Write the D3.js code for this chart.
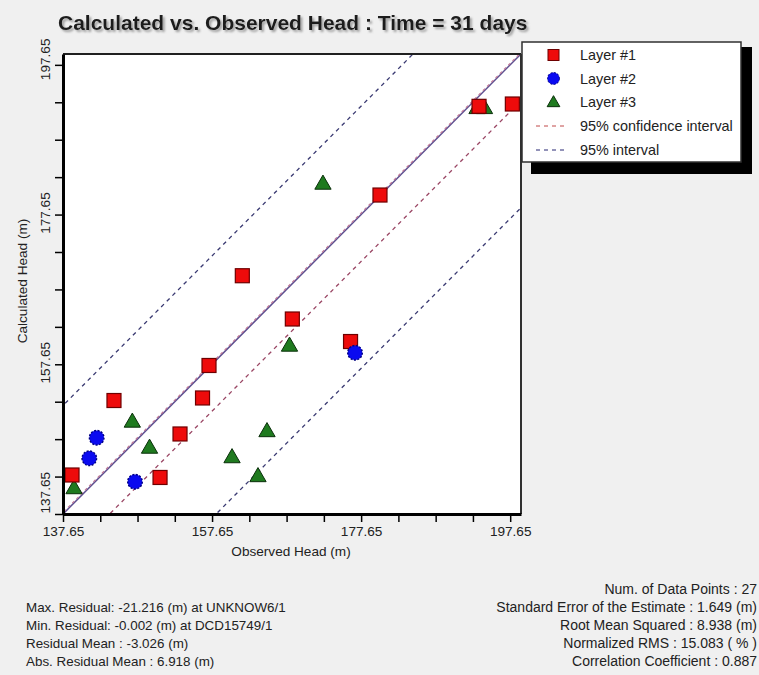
<!DOCTYPE html>
<html>
<head>
<meta charset="utf-8">
<script src="https://cdn.jsdelivr.net/npm/d3@7"></script>
<style>
  body { margin: 0; background: #f0f0f0; }
  svg { display: block; font-family: "Liberation Sans", Arial, sans-serif; }
</style>
</head>
<body>
<svg id="chart" width="759" height="675"></svg>
<script>
// ---- data ----
const layer1Observed   = [138.86, 144.49, 150.67, 153.35, 156.37, 157.24, 161.71, 168.42, 176.23, 180.18, 193.47, 197.94];
const layer1Calculated = [142.86, 152.81, 142.53, 148.34, 153.15, 157.49, 169.48, 163.70, 160.69, 180.26, 192.11, 192.42];

const layer2Observed   = [141.18, 142.17, 147.31, 176.83];
const layer2Calculated = [145.09, 147.84, 141.96, 159.19];

const layer3Observed   = [139.13, 146.95, 149.26, 160.33, 163.81, 165.02, 168.04, 172.53, 193.20, 194.20];
const layer3Calculated = [141.12, 150.01, 146.53, 145.26, 142.73, 148.74, 160.16, 181.80, 191.90, 191.90];

const majorTicks = [137.65, 157.65, 177.65, 197.65];
const tickLabels = ["137.65", "157.65", "177.65", "197.65"];
const axisDomain = [137.65, 199.1];

// summary statistics
const residualMean = -3.026;
const stdError = 1.649;
const rootMeanSquared = 8.938;

const leftStats = [
  "Max. Residual: -21.216 (m) at UNKNOW6/1",
  "Min. Residual: -0.002 (m) at DCD15749/1",
  "Residual Mean : -3.026 (m)",
  "Abs. Residual Mean : 6.918 (m)"
];
const rightStats = [
  "Num. of Data Points : 27",
  "Standard Error of the Estimate : 1.649 (m)",
  "Root Mean Squared : 8.938 (m)",
  "Normalized RMS : 15.083 ( % )",
  "Correlation Coefficient : 0.887"
];

const legendItems = ["Layer #1", "Layer #2", "Layer #3", "95% confidence interval", "95% interval"];

// ---- layout ----
const svg = d3.select("#chart");
const plot = { left: 63, right: 521, top: 54, bottom: 514 };

const x = d3.scaleLinear().domain(axisDomain).range([plot.left, plot.right]);
const y = d3.scaleLinear().domain(axisDomain).range([plot.bottom, plot.top]);

const minorTicks = d3.range(0, 13).map(i => majorTicks[0] + 5 * i);

const colors = {
  square: "#ee0b0b", squareStroke: "#6e0000",
  circle: "#0a0af0", circleStroke: "#000080",
  tri: "#1f7a1f", triStroke: "#0b300b",
  conf: "#9a4664", interval: "#3a3a72", oneToOne: "#5c4f90"
};

const defs = svg.append("defs");
const shadow = defs.append("filter").attr("id", "titleShadow")
  .attr("x", "-5%").attr("y", "-30%").attr("width", "110%").attr("height", "160%");
shadow.append("feDropShadow")
  .attr("dx", 2).attr("dy", 2).attr("stdDeviation", 0.8)
  .attr("flood-color", "#8a8a8a").attr("flood-opacity", 0.8);

// title
svg.append("text").attr("x", 58).attr("y", 30)
  .attr("font-size", 21).attr("font-weight", "bold").attr("fill", "#1a1a1a")
  .attr("filter", "url(#titleShadow)")
  .text("Calculated vs. Observed Head : Time = 31 days");

// plot background
svg.append("rect")
  .attr("x", plot.left).attr("y", plot.top)
  .attr("width", plot.right - plot.left).attr("height", plot.bottom - plot.top)
  .attr("fill", "#ffffff");

defs.append("clipPath").attr("id", "plotClip")
  .append("rect")
  .attr("x", plot.left).attr("y", plot.top)
  .attr("width", plot.right - plot.left).attr("height", plot.bottom - plot.top);

const lineLayer = svg.append("g").attr("clip-path", "url(#plotClip)");

// reference lines: calculated = observed + offset
function refLine(offset, color, dash, width) {
  lineLayer.append("line")
    .attr("x1", x(axisDomain[0] - 30)).attr("y1", y(axisDomain[0] - 30 + offset))
    .attr("x2", x(axisDomain[1] + 30)).attr("y2", y(axisDomain[1] + 30 + offset))
    .attr("stroke", color).attr("stroke-width", width)
    .attr("stroke-dasharray", dash);
}
const confHalf = 1.96 * stdError;
const intervalHalf = 1.96 * rootMeanSquared;

refLine(0, colors.oneToOne, null, 1.5);
refLine(residualMean + confHalf, "#c07a98", "3,3", 1.2);
refLine(residualMean - confHalf, colors.conf, "4,4", 1.3);
refLine(residualMean + intervalHalf, colors.interval, "4,4", 1.3);
refLine(residualMean - intervalHalf, colors.interval, "4,4", 1.3);

// markers
const markers = svg.append("g").attr("clip-path", "url(#plotClip)");
const triSymbol = d3.symbol().type(d3.symbolTriangle).size(115);

markers.selectAll("path.l3")
  .data(d3.zip(layer3Observed, layer3Calculated))
  .join("path").attr("class", "l3")
  .attr("d", triSymbol)
  .attr("transform", d => `translate(${x(d[0])},${y(d[1]) + 1})`)
  .attr("fill", colors.tri).attr("stroke", colors.triStroke).attr("stroke-width", 1);

markers.selectAll("rect.l1")
  .data(d3.zip(layer1Observed, layer1Calculated))
  .join("rect").attr("class", "l1")
  .attr("x", d => x(d[0]) - 7).attr("y", d => y(d[1]) - 7)
  .attr("width", 14).attr("height", 14)
  .attr("fill", colors.square).attr("stroke", colors.squareStroke).attr("stroke-width", 1.2);

markers.selectAll("circle.l2")
  .data(d3.zip(layer2Observed, layer2Calculated))
  .join("circle").attr("class", "l2")
  .attr("cx", d => x(d[0])).attr("cy", d => y(d[1]))
  .attr("r", 7.3)
  .attr("fill", colors.circle).attr("stroke", colors.circleStroke)
  .attr("stroke-width", 1.4).attr("stroke-dasharray", "2,1.5");

// frame (top and right)
svg.append("line").attr("x1", plot.left).attr("x2", plot.right)
  .attr("y1", plot.top).attr("y2", plot.top)
  .attr("stroke", "#202020").attr("stroke-width", 2);
svg.append("line").attr("x1", plot.right).attr("x2", plot.right)
  .attr("y1", plot.top).attr("y2", plot.bottom)
  .attr("stroke", "#303030").attr("stroke-width", 2);

// axes
const fmt = v => {
  const i = majorTicks.findIndex(m => Math.abs(m - v) < 1e-6);
  return i >= 0 ? tickLabels[i] : "";
};

const xAxis = svg.append("g")
  .attr("transform", `translate(0,${plot.bottom})`)
  .call(d3.axisBottom(x).tickValues(minorTicks).tickFormat(fmt).tickSize(8).tickSizeOuter(0));
xAxis.select(".domain").attr("stroke", "#000").attr("stroke-width", 3);
xAxis.selectAll(".tick line").attr("stroke", "#000").attr("stroke-width", 1.5);
xAxis.selectAll(".tick text")
  .attr("font-family", "Liberation Sans, Arial, sans-serif")
  .attr("font-size", 13.6).attr("fill", "#222").attr("y", 12);

const yAxis = svg.append("g")
  .attr("transform", `translate(${plot.left},0)`)
  .call(d3.axisLeft(y).tickValues(minorTicks).tickFormat(fmt).tickSize(8).tickSizeOuter(0));
yAxis.select(".domain").attr("stroke", "#000").attr("stroke-width", 3);
yAxis.selectAll(".tick line").attr("stroke", "#000").attr("stroke-width", 1.5);
yAxis.selectAll(".tick text")
  .attr("font-family", "Liberation Sans, Arial, sans-serif")
  .attr("font-size", 13.6).attr("fill", "#222")
  .attr("x", null)
  .attr("text-anchor", (d, i) => i === 0 ? "start" : "middle")
  .attr("transform", (d, i) => {
    const shift = i === 0 ? -1 : (i === 12 ? -6 : -2);
    return `translate(-18,${shift}) rotate(-90)`;
  })
  .attr("dy", "0.35em");

// axis titles
svg.append("text")
  .attr("x", 291).attr("y", 556)
  .attr("text-anchor", "middle").attr("font-size", 13.6).attr("fill", "#222")
  .text("Observed Head (m)");
svg.append("text")
  .attr("transform", "translate(22,281) rotate(-90)")
  .attr("text-anchor", "middle").attr("dy", "0.35em")
  .attr("font-size", 13.6).attr("fill", "#222")
  .text("Calculated Head (m)");

// legend with drop shadow
const legend = svg.append("g");
legend.append("rect").attr("x", 531).attr("y", 47).attr("width", 221).attr("height", 127).attr("fill", "#000");
legend.append("rect").attr("x", 522).attr("y", 42).attr("width", 219).attr("height", 120)
  .attr("fill", "#fff").attr("stroke", "#303030").attr("stroke-width", 1.5);

const legendY = [55, 78.5, 102, 126, 150];
legend.append("rect").attr("x", 548).attr("y", legendY[0] - 5.5).attr("width", 11).attr("height", 11)
  .attr("fill", colors.square).attr("stroke", colors.squareStroke);
legend.append("circle").attr("cx", 553.5).attr("cy", legendY[1]).attr("r", 6)
  .attr("fill", colors.circle).attr("stroke", colors.circleStroke).attr("stroke-dasharray", "2,1.5");
legend.append("path").attr("d", d3.symbol().type(d3.symbolTriangle).size(70))
  .attr("transform", `translate(553.5,${legendY[2] + 1})`)
  .attr("fill", colors.tri).attr("stroke", colors.triStroke);
legend.append("line").attr("x1", 536).attr("x2", 566).attr("y1", legendY[3]).attr("y2", legendY[3])
  .attr("stroke", "#c04848").attr("stroke-width", 1).attr("stroke-dasharray", "4,4");
legend.append("line").attr("x1", 536).attr("x2", 566).attr("y1", legendY[4]).attr("y2", legendY[4])
  .attr("stroke", "#262673").attr("stroke-width", 1).attr("stroke-dasharray", "4,4");

legend.selectAll("text.item")
  .data(legendItems)
  .join("text").attr("class", "item")
  .attr("x", 580).attr("y", (d, i) => legendY[i])
  .attr("dy", "0.35em").attr("font-size", 14.4).attr("fill", "#222")
  .text(d => d);

// summary statistics
svg.selectAll("text.lstat")
  .data(leftStats)
  .join("text").attr("class", "lstat")
  .attr("x", 26).attr("y", (d, i) => 607 + 18 * i)
  .attr("dy", "0.35em").attr("font-size", 13.4).attr("fill", "#222")
  .text(d => d);

svg.selectAll("text.rstat")
  .data(rightStats)
  .join("text").attr("class", "rstat")
  .attr("x", 757).attr("y", (d, i) => 589 + 18 * i)
  .attr("dy", "0.35em").attr("text-anchor", "end").attr("font-size", 14).attr("fill", "#222")
  .text(d => d);
</script>
</body>
</html>
